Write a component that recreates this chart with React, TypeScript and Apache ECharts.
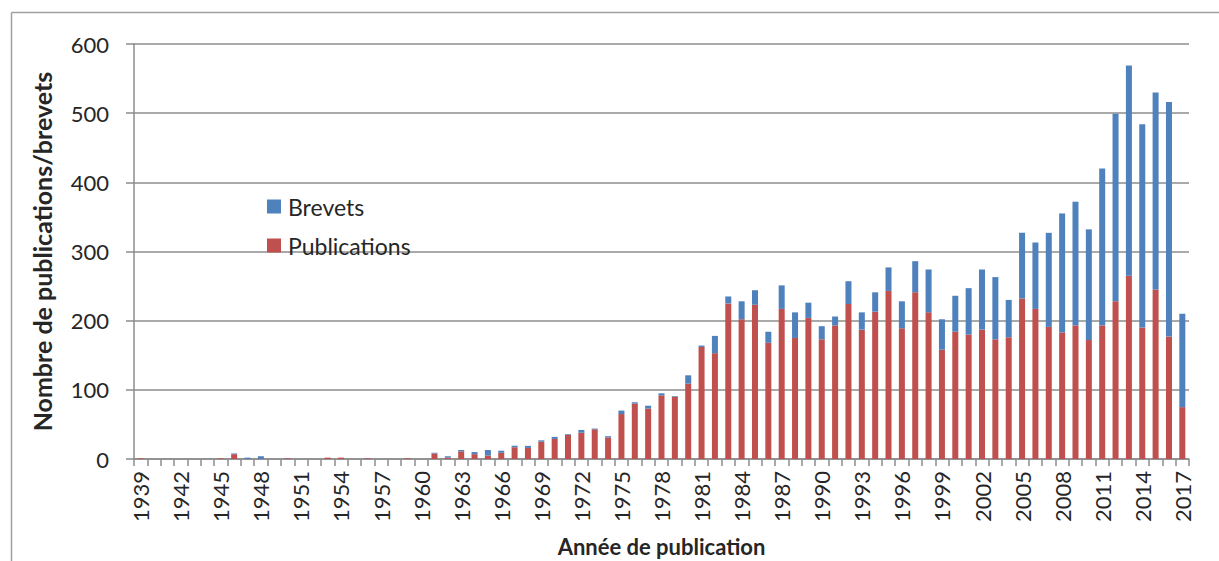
import React, { useEffect, useRef } from "react";
import * as echarts from "echarts";

const years: string[] = [];
for (let y = 1939; y <= 2017; y++) years.push(String(y));

const publications = [
  1, 0, 0, 0, 0, 0, 1, 7, 0, 0,
  0, 1, 0, 0, 2, 2, 0, 1, 0, 0,
  1, 0, 8, 2, 11, 7, 5, 9, 17, 16,
  25, 29, 35, 38, 43, 31, 65, 80, 73, 92,
  90, 109, 162, 153, 225, 202, 223, 168, 217, 175,
  204, 173, 193, 224, 187, 213, 243, 189, 241, 212,
  158, 184, 180, 187, 173, 176, 232, 217, 191, 183,
  193, 172, 193, 228, 265, 190, 245, 177, 75,
];

const brevets = [
  0, 0, 0, 0, 0, 0, 0, 1, 2, 4,
  0, 0, 0, 0, 0, 0, 0, 0, 0, 0,
  0, 0, 1, 2, 2, 3, 8, 3, 2, 3,
  2, 3, 1, 4, 1, 2, 5, 2, 4, 3,
  1, 12, 2, 25, 10, 26, 21, 16, 34, 37,
  22, 19, 13, 33, 25, 28, 34, 39, 45, 62,
  44, 52, 67, 87, 90, 54, 95, 96, 136, 172,
  179, 160, 227, 271, 304, 294, 285, 339, 135,
];

const FONT = "Lato";
const TEXT = "#262626";
const GRID = "#8c8c8c";

export default function App() {
  const ref = useRef<HTMLDivElement>(null);
  useEffect(() => {
    if (!ref.current) return;
    const chart = echarts.init(ref.current, undefined, { renderer: "svg" });
    chart.setOption({
      animation: false,
      backgroundColor: "#ffffff",
      textStyle: { fontFamily: FONT, color: TEXT },
      grid: {
        left: 134,
        right: 30,
        top: 44,
        bottom: 102,
        containLabel: false,
        outerBoundsMode: "none",
      },
      legend: {
        data: ["Brevets", "Publications"],
        orient: "vertical",
        left: 267,
        top: 195,
        padding: 0,
        itemWidth: 14,
        itemHeight: 14,
        itemGap: 16,
        icon: "rect",
        textStyle: { fontFamily: FONT, fontSize: 23, color: TEXT, padding: [0, 0, 0, 2] },
      },
      graphic: [
        {
          type: "line",
          shape: { x1: 11.5, y1: 12.5, x2: 1219, y2: 12.5 },
          style: { stroke: "#a0a0a0", lineWidth: 1.5 },
        },
        {
          type: "line",
          shape: { x1: 11.5, y1: 12.5, x2: 11.5, y2: 561 },
          style: { stroke: "#a0a0a0", lineWidth: 1.5 },
        },
      ],
      xAxis: {
        type: "category",
        data: years,
        boundaryGap: true,
        name: "Année de publication",
        nameLocation: "middle",
        nameGap: 76,
        nameTextStyle: { fontFamily: FONT, fontSize: 22, fontWeight: "bold", color: TEXT },
        axisLine: { lineStyle: { color: GRID, width: 1.5 } },
        axisTick: { show: true, interval: 0, length: 7, lineStyle: { color: GRID, width: 1.5 } },
        axisLabel: {
          interval: 2,
          rotate: 90,
          margin: 12,
          fontFamily: FONT,
          fontSize: 22,
          color: TEXT,
        },
      },
      yAxis: {
        type: "value",
        min: 0,
        max: 600,
        interval: 100,
        name: "Nombre de publications/brevets",
        nameLocation: "middle",
        nameGap: 80,
        nameTextStyle: { fontFamily: FONT, fontSize: 25, fontWeight: "bold", color: TEXT },
        axisLine: { show: true, lineStyle: { color: GRID, width: 1.5 } },
        axisTick: { show: true, length: 8, lineStyle: { color: GRID, width: 1.5 } },
        splitLine: { lineStyle: { color: GRID, width: 1.5 } },
        axisLabel: { margin: 25, fontFamily: FONT, fontSize: 22, color: TEXT },
      },
      series: [
        {
          name: "Publications",
          type: "bar",
          stack: "total",
          data: publications,
          barWidth: "45%",
          itemStyle: { color: "#C0504D" },
        },
        {
          name: "Brevets",
          type: "bar",
          stack: "total",
          data: brevets,
          barWidth: "45%",
          itemStyle: { color: "#4F81BD" },
        },
      ],
    });
    return () => chart.dispose();
  }, []);
  return (
    <div
      ref={ref}
      style={{ position: "fixed", left: 0, top: 0, width: 1219, height: 561 }}
    />
  );
}
